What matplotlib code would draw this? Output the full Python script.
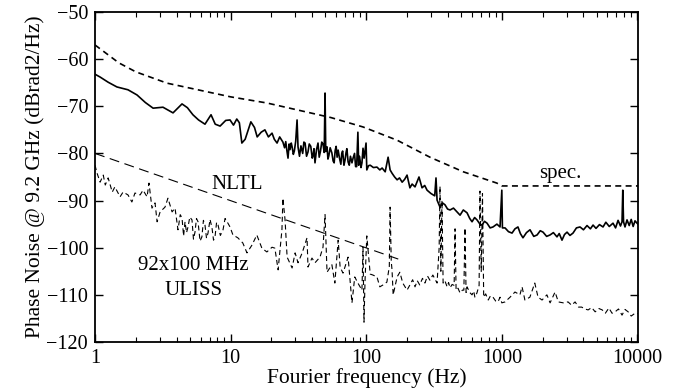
import matplotlib
matplotlib.use("Agg")
import matplotlib.pyplot as plt
from matplotlib.ticker import FixedLocator, LogLocator, NullFormatter

plt.rcParams['font.family'] = ['Liberation Serif', 'DejaVu Serif']
plt.rcParams['font.size'] = 14.5

# ---- data ----
spec_f = [1, 1.5, 2, 3.4, 10, 18.5, 55, 95, 169, 295, 520, 920, 1000, 11000]
spec_db = [-57, -60.8, -62.7, -65.1, -68.0, -69.3, -72.4, -74.4, -77.2, -80.8, -83.9, -86.3, -86.9, -86.9]

nltl_f = [1, 180]
nltl_db = [-80.0, -102.6]

solid_f = [1.0, 1.09, 1.25, 1.45, 1.75, 2.04, 2.35, 2.68, 3.17, 3.76, 4.38, 4.8, 5.27, 5.8,
           6.47, 7.17, 7.7, 8.36, 9.2, 9.9, 10.5, 11.1, 11.6, 12.1, 12.8, 14.1, 15.0, 15.7,
           16.8, 17.9, 19, 20.2, 21, 22.0, 23, 24.3, 25.0, 25.5, 26.0, 26.5, 27.0, 27.4, 28.0,
           28.4, 29.0, 29.5, 30.2, 30.9, 31.4, 32.2, 33, 34, 34.7, 35.4, 36.3, 37.2, 38.0, 39,
           40.0, 40.5, 41.2, 41.9, 43.0, 44.1, 45.0, 46, 47.0, 48, 49.0, 49.7, 50.3, 51.4, 52.2,
           53, 54.2, 55.8, 57.0, 58, 59.0, 60, 61.0, 62.1, 63.5, 65, 66.0, 67, 68.5, 69.8, 71.0,
           72, 73.5, 75, 76.5, 78.5, 80.0, 82, 83.5, 85, 86.8, 88, 89, 90, 91.5, 93, 94.7, 96.5,
           98, 99.7, 101, 104, 107, 113, 120, 126, 131, 138, 145, 150, 155, 162, 169, 176, 184,
           192, 200, 210, 218, 229, 237, 245, 258, 270, 281, 300, 320, 327, 333, 350, 365, 381,
           398, 415, 440, 467, 492, 520, 554, 580, 603, 630, 656, 690, 715, 745, 778, 820, 861,
           920, 970, 1000, 1010, 1056, 1120, 1189, 1250, 1315, 1370, 1432, 1520, 1614, 1720,
           1820, 1920, 2014, 2140, 2266, 2400, 2552, 2650, 2778, 2900, 3027, 3180, 3350, 3550,
           3773, 4000, 4250, 4500, 4707, 4950, 5250, 5577, 5850, 6200, 6608, 6900, 7200, 7500,
           7700, 7800, 7900, 8100, 8380, 8700, 9000, 9300, 9600, 9934, 10100]
solid_db = [-63.2, -63.8, -64.9, -65.9, -66.5, -67.6, -69.2, -70.4, -70.2, -71.4, -69.5, -70.3, -71.8, -72.9,
            -73.8, -71.8, -73.8, -74.2, -73.0, -72.9, -74.0, -72.7, -73.5, -77.8, -77.0, -73.3, -74.5, -76.5,
            -75.5, -75.0, -76.5, -75.7, -77.0, -77.8, -76.5, -77.6, -78.8, -77.5, -79.4, -81.0, -78.0, -79.2, -77.8,
            -78.6, -80.2, -79.5, -77.4, -72.9, -78.6, -80.6, -78.4, -80.0, -77.6, -77.8, -80.6, -79.7, -78.0, -78.5,
            -81.0, -80.5, -79.0, -82.0, -79.2, -77.8, -80.8, -79.5, -77.6, -78.0, -79.8, -67.2, -79.6, -78.6, -81.2,
            -80.5, -78.8, -79.9, -81.6, -82.0, -79.4, -78.5, -80.8, -79.3, -81.0, -82.3, -80.0, -79.5, -82.5, -81.4, -79.8,
            -79.0, -81.8, -82.5, -80.6, -82.0, -81.0, -80.0, -82.8, -82.8, -75.5, -82.5, -80.6, -81.4, -83.0, -82.0, -78.9, -81.0,
            -79.5, -77.8, -83.5, -82.6, -82.5, -83.0, -82.9, -83.5, -83.1, -83.9, -80.8, -83.5, -84.2, -85.0, -85.6, -85.2, -86.1,
            -85.5, -84.6, -87.3, -86.5, -87.1, -86.0, -85.0, -87.3, -86.8, -87.8, -88.5, -89.0, -85.2, -89.9, -91.4, -90.5, -90.9,
            -91.8, -92.0, -91.6, -92.4, -93.1, -92.0, -92.6, -93.8, -94.5, -93.6, -94.1, -95.0, -95.2, -94.4, -94.8, -95.8, -95.6,
            -95.0, -95.6, -87.8, -95.8, -95.8, -96.6, -96.9, -96.0, -95.6, -97.0, -97.9, -96.8, -96.2, -97.6,
            -97.3, -96.4, -96.7, -97.6, -97.3, -96.8, -97.7, -97.0, -98.4, -97.2, -96.7, -97.4, -96.9, -95.8,
            -95.6, -96.2, -95.3, -96.0, -95.2, -95.9, -95.1, -95.6, -94.6, -95.5, -94.8, -95.8, -94.2, -95.4,
            -94.5, -87.8, -94.5, -95.6, -94.1, -95.3, -94.0, -95.5, -94.3, -94.8, -95.0]

uliss_f = [1.0, 1.03, 1.09, 1.15, 1.19, 1.25, 1.34, 1.40, 1.53, 1.61, 1.75, 1.87, 1.97, 2.15, 2.26,
           2.42, 2.50, 2.63, 2.77, 2.87, 3.02, 3.28, 3.45, 3.70, 3.89, 4.09, 4.25, 4.38, 4.50, 4.61,
           4.73, 4.85, 5.0, 5.19, 5.32, 5.46, 5.60, 5.75, 5.95, 6.14, 6.30, 6.47, 6.64, 6.81, 7.05,
           7.29, 7.48, 7.67, 7.88, 8.08, 8.40, 8.79, 9.10, 9.42, 9.90, 10.4, 11.3, 12.3, 13.2,
           14.4, 15.6, 17.0, 18.5, 20.2, 21.2, 22.4, 23.9, 24.3, 25.2, 26.1, 28.4, 29.9, 31.4, 33.7,
           36.6, 37.2, 39.8, 41.9, 45.6, 48.0, 49.7, 51.4, 55.8, 58.7, 62.1, 64.2, 67.4, 73.5, 78.5,
           82.3, 86.8, 93, 94.7, 96.3, 98, 101, 107, 112, 120, 126, 133, 142, 148, 150, 153, 155,
           158, 169, 177, 186, 200, 210, 220, 229, 238, 248, 260, 271, 283, 295, 310, 333, 345, 350,
           355, 362, 369, 380, 395, 405, 415, 430, 445, 452, 460, 475, 492, 512, 525, 535, 545,
           554, 580, 603, 620, 633, 655, 680, 690, 705, 720, 735, 760, 794, 825, 861, 900, 937,
           970, 1000, 1056, 1150, 1250, 1360, 1410, 1480, 1610, 1750, 1850, 1980, 2150, 2270,
           2470, 2610, 2840, 3080, 3270, 3470, 3680, 3880, 4100, 4330, 4600, 4880, 5200, 5500,
           5800, 6160, 6500, 6850, 7250, 7700, 8100, 8540, 9000, 9600, 10100]
uliss_db = [-82.5, -84.0, -86.1, -84.6, -86.7, -85.2, -88.2, -87.1, -89.2, -88.2, -88.8, -90.3, -88.4, -88.8, -87.8,
            -89.2, -86.3, -91.6, -90.5, -94.5, -92.4, -91.4, -89.5, -92.4, -91.6, -96.2, -93.0, -93.7, -97.5, -94.5,
            -96.8, -95.6, -93.5, -94.1, -98.2, -96.7, -93.8, -94.5, -98.6, -97.7, -94.2, -95.2, -98.0, -96.9, -94.0,
            -95.8, -98.4, -97.7, -94.6, -95.2, -97.4, -96.2, -93.8, -94.5, -95.6, -97.3, -97.9, -99.0, -101.1,
            -99.4, -97.3, -100.1, -100.9, -99.9, -100.1, -104.7, -96.2, -89.5, -94.1, -102.0, -104.3, -101.1, -103.2, -101.1,
            -97.9, -104.1, -102.2, -103.2, -102.0, -99.9, -93.0, -105.2, -103.6, -107.5, -98.4, -104.1, -105.4, -102.0, -111.7,
            -106.2, -107.5, -109.0, -99.9, -115.8, -107.0, -97.5, -105.6, -105.8, -106.2, -108.3, -107.9, -107.3, -104.0, -91.4, -103.0, -104.7,
            -110.0, -106.2, -105.2, -107.5, -109.0, -107.9, -106.8, -108.3, -107.0, -107.9, -106.5, -107.5, -106.0, -106.9, -105.8, -107.5, -100.0, -87.0,
            -105.0, -90.0, -107.5, -107.0, -108.3, -107.4, -108.5, -107.8, -108.0, -96.0, -109.0, -108.6, -109.6, -109.0, -109.0, -95.8, -109.5,
            -108.3, -109.5, -110.0, -109.2, -110.5, -109.6, -108.0, -88.0, -105.0, -88.5, -110.5, -109.8, -111.1, -110.2, -110.5, -111.3, -111.5,
            -110.5, -111.7, -111.5, -110.5, -109.4, -110.0, -108.3, -111.1, -110.5, -107.5, -110.5, -111.1, -110.0, -111.7,
            -109.4, -111.5, -111.7, -111.5, -112.2, -111.5, -112.6, -112.6, -113.0, -113.2, -112.7, -113.6, -112.9, -113.2,
            -113.9, -112.8, -113.9, -113.6, -113.0, -114.3, -113.1, -113.6, -114.5, -113.9, -114.0]

x_ticks = [1, 10, 100, 1000, 10000]
x_ticklabels = ["1", "10", "100", "1000", "10000"]
y_ticks = [-120, -110, -100, -90, -80, -70, -60, -50]

# ---- figure ----
fig = plt.figure(figsize=(6.73, 3.92), dpi=100)
ax = fig.add_axes([0.1412, 0.1276, 0.8068, 0.8418])

ax.plot(uliss_f, uliss_db, color='black', lw=0.8, linestyle=(0, (4.5, 3.0)))
ax.plot(nltl_f, nltl_db, color='black', lw=0.8, linestyle=(0, (9.0, 5.0)))
ax.plot(spec_f, spec_db, color='black', lw=1.2, linestyle=(0, (3.6, 2.6)))
ax.plot(solid_f, solid_db, color='black', lw=1.2)

ax.set_xscale('log')
ax.set_xlim(1, 10100)
ax.set_ylim(-120, -50)
ax.xaxis.set_major_locator(FixedLocator(x_ticks))
ax.set_xticklabels(x_ticklabels)
ax.xaxis.set_minor_locator(LogLocator(base=10, subs=range(2, 10)))
ax.xaxis.set_minor_formatter(NullFormatter())
ax.set_yticks(y_ticks)

ax.tick_params(axis='both', which='major', direction='in', length=6, width=1.0,
               top=True, right=True, labelsize=14.5, pad=5)
ax.tick_params(axis='both', which='minor', direction='in', length=3.5, width=0.8,
               top=True, right=True)
for s in ax.spines.values():
    s.set_linewidth(1.3)

ax.set_xlabel('Fourier frequency (Hz)', fontsize=15.5, labelpad=0)
ax.set_ylabel('Phase Noise @ 9.2 GHz (dBrad2/Hz)', fontsize=15.5, labelpad=1)

ax.text(11.1, -86.5, 'NLTL', ha='center', va='center', fontsize=15)
ax.text(2700, -84.2, 'spec.', ha='center', va='center', fontsize=15)
ax.text(5.28, -103.7, '92x100 MHz', ha='center', va='center', fontsize=15)
ax.text(5.28, -109.0, 'ULISS', ha='center', va='center', fontsize=15)

fig.savefig('out.png', dpi=100)
